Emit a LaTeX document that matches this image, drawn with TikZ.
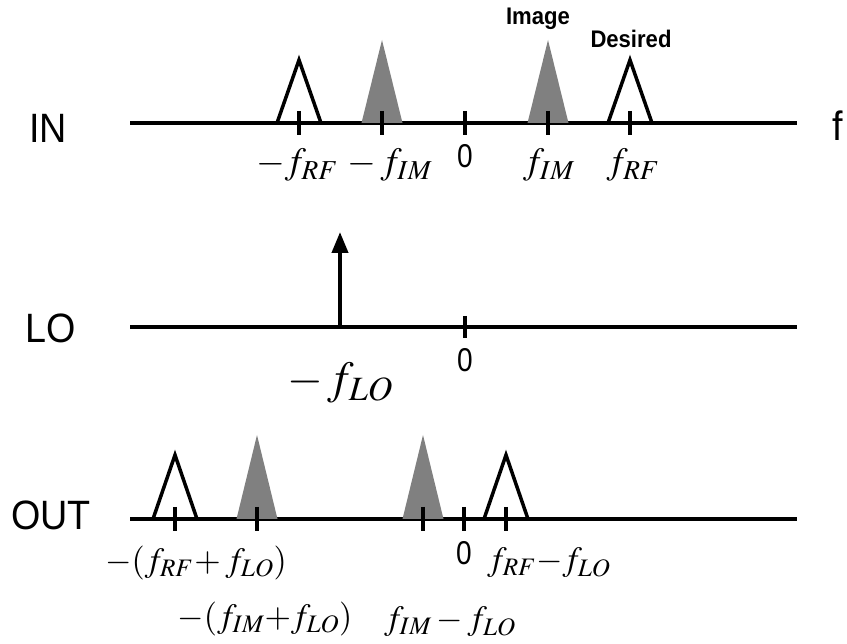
\documentclass[tikz,border=0pt]{standalone}
\usepackage{mathptmx}
\usepackage[no-math]{fontspec}
\newfontfamily\gothic[FakeStretch=0.92]{Liberation Sans}
\newfontfamily\gothicnarrow[FakeStretch=0.85]{Liberation Sans}
\usepackage{tikz}
\usetikzlibrary{
  arrows.meta,  % 本振箭头
  positioning   % 节点相对定位
}
\definecolor{peakgray}{RGB}{128,128,128}

\tikzset{
  axisline/.style={line width=4pt},
  tickmark/.style={line width=4pt},
  openpeak/.style={line width=3.5pt, line join=miter},
  imgpeak/.style={fill=peakgray, draw=none},
  rowlabel/.style={font=\gothic\fontsize{41}{41}\selectfont},
  zerolabel/.style={font=\gothicnarrow\fontsize{33}{33}\selectfont},
  taglabel/.style={font=\gothic\bfseries\fontsize{24}{24}\selectfont},
  freqlabel/.style={font=\fontsize{37}{37}\selectfont},
  outlabel/.style={font=\fontsize{34}{34}\selectfont},
  biglabel/.style={font=\fontsize{46}{46}\selectfont},
}

\begin{document}
\begin{tikzpicture}[x=1pt, y=-1pt, >=Stealth]
  \useasboundingbox (0,0) rectangle (847,644);

  % =========== 输入频谱 IN ===========
  \begin{scope}[shift={(0,123)}]
    \coordinate (inL) at (130,0);
    \coordinate (inR) at (797,0);
    \draw[axisline] (inL) -- (inR);
    % 镜像信号 (灰色)
    \foreach \x in {382,548}
      \fill[imgpeak] (\x-20.5,0) -- (\x,-83) -- (\x+20.5,0) -- cycle;
    % 期望信号 (空心)
    \foreach \x in {299,630}
      \draw[openpeak] (\x-22,0) -- (\x,-63) -- (\x+22,0);
    % 刻度
    \foreach \x in {299,382,465,548,630}
      \draw[tickmark] (\x,-12) -- (\x,12);
    \node[rowlabel] (inname) at (48,5) {IN};
    \node[rowlabel] (faxis) at (838,3) {f};
    \node[freqlabel] (mrf) at (297,42) {$-f_{RF}$};
    \node[freqlabel] (mim) at (390,42) {$-\,f_{IM}$};
    \node[zerolabel] (inzero) at (465,33) {0};
    \node[freqlabel] (pim) at (549,42) {$f_{IM}$};
    \node[freqlabel] (prf) at (633,42) {$f_{RF}$};
    \node[taglabel] (imgtag) at (538,-104) {Image};
    \node[taglabel] (destag) at (631,-84) {Desired};
  \end{scope}

  % =========== 本振 LO ===========
  \begin{scope}[shift={(0,327)}]
    \coordinate (loL) at (130,0);
    \coordinate (loR) at (797,0);
    \draw[axisline] (loL) -- (loR);
    % 本振谱线
    \coordinate (lofoot) at (340,0);
    \coordinate (lotip) at (340,-95);
    \draw[axisline, -{Triangle[width=16pt,length=21pt]}] (lofoot) -- (lotip);
    \draw[tickmark] (465,-11) -- (465,11);
    \node[rowlabel] (loname) at (51,1) {LO};
    \node[zerolabel] (lozero) at (465,33) {0};
    \node[biglabel] (mlo) at (340,56) {$-\,f_{LO}$};
  \end{scope}

  % =========== 输出频谱 OUT ===========
  \begin{scope}[shift={(0,519)}]
    \coordinate (outL) at (130,0);
    \coordinate (outR) at (797,0);
    \draw[axisline] (outL) -- (outR);
    % 镜像信号 (灰色)
    \foreach \x in {257,423}
      \fill[imgpeak] (\x-20.5,0) -- (\x,-84) -- (\x+20.5,0) -- cycle;
    % 期望信号 (空心)
    \foreach \x in {175,506}
      \draw[openpeak] (\x-22,0) -- (\x,-64) -- (\x+22,0);
    % 刻度
    \foreach \x in {175,257,423,464,506}
      \draw[tickmark] (\x,-12) -- (\x,12);
    \node[rowlabel] (outname) at (51,-4) {OUT};
    \node[zerolabel] (outzero) at (464,34) {0};
    \node[outlabel] (sumrf) at (196,44) {$-(f_{RF}\mkern-2mu+f_{LO})$};
    \node[outlabel] (difrf) at (549,44) {$f_{RF}{-}f_{LO}$};
    \node[outlabel] (sumim) at (265,100) {$-(f_{IM}{+}f_{LO})$};
    \node[outlabel] (difim) at (450,103) {$f_{IM}-f_{LO}$};
  \end{scope}

\end{tikzpicture}
\end{document}
